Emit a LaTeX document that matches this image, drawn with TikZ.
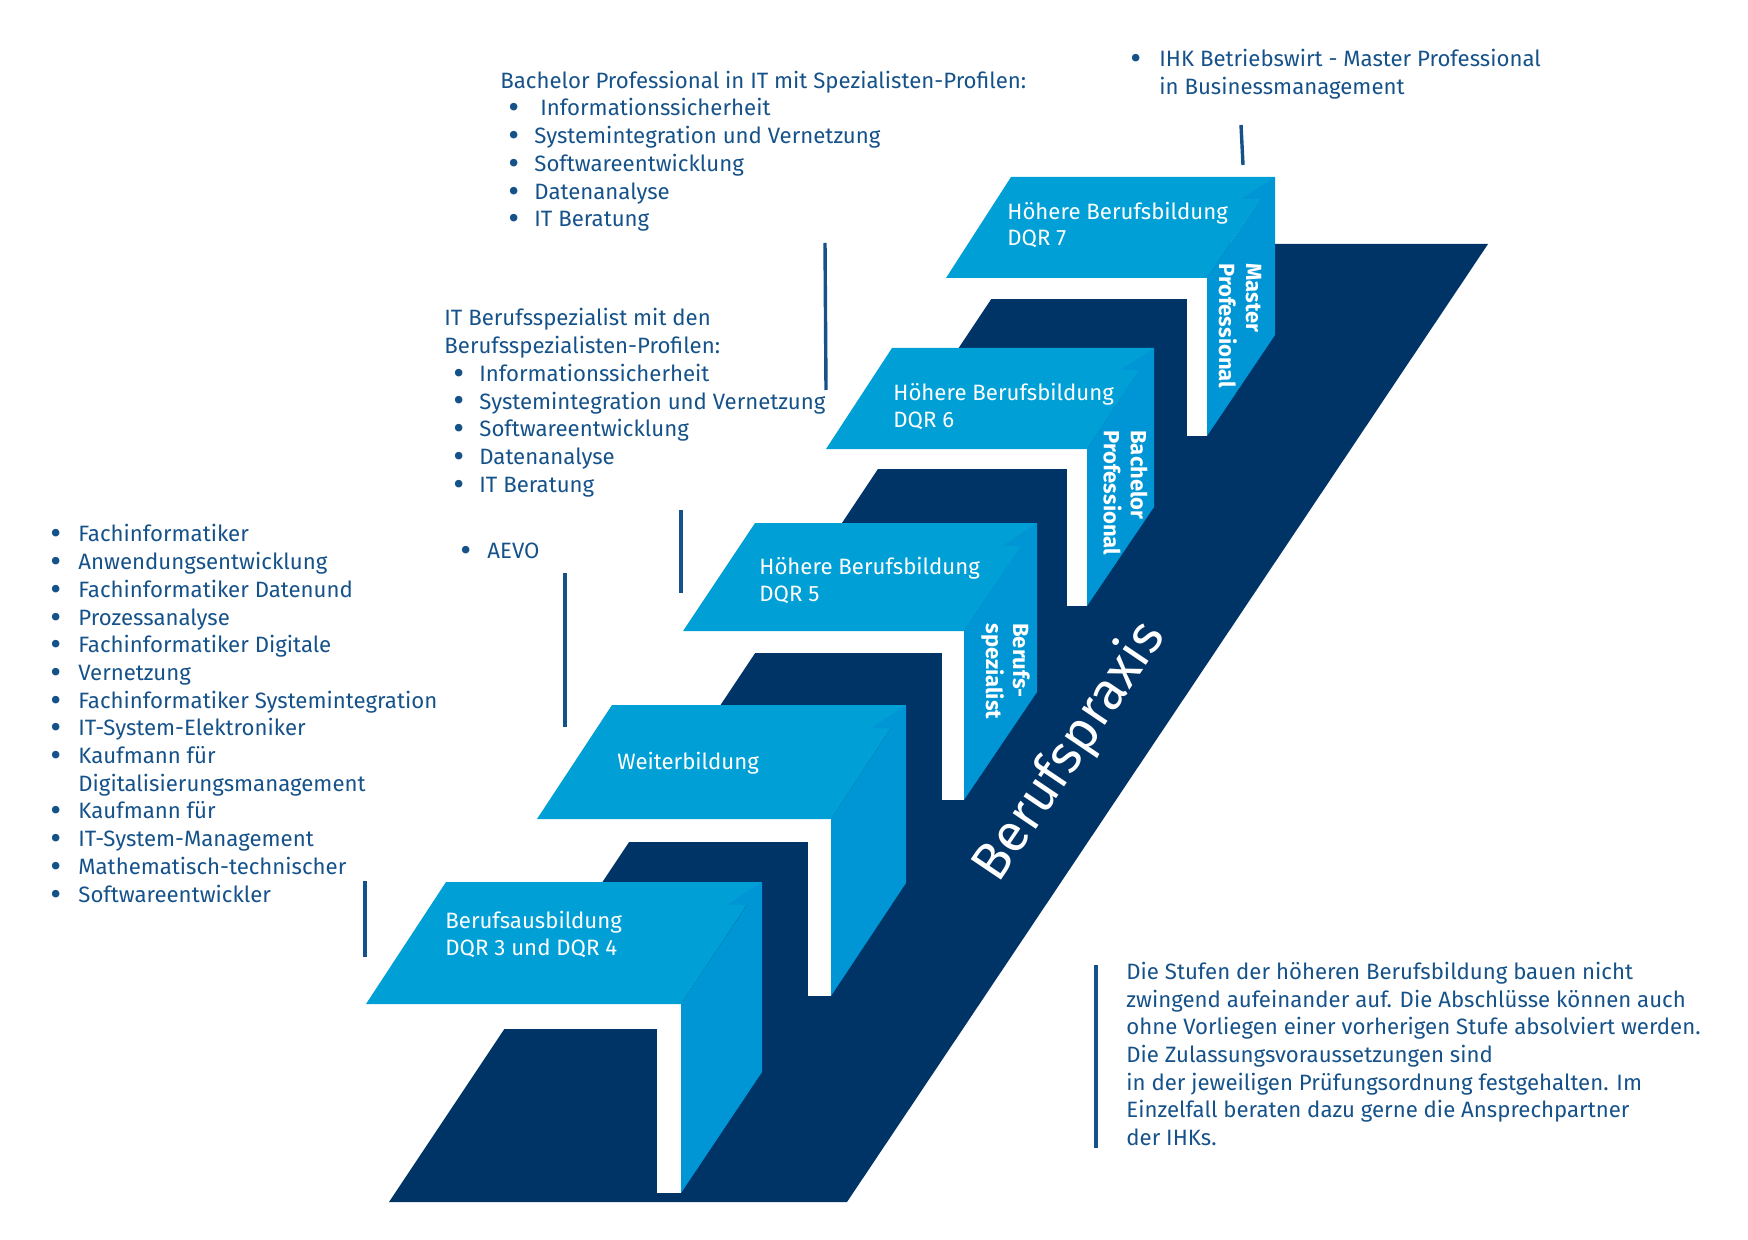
\documentclass[tikz,border=0pt]{standalone}
\usepackage{fontspec}
\setmainfont{Fira Sans}

\definecolor{hellblau}{RGB}{0,160,214}
\definecolor{seitenblau}{RGB}{0,150,213}
\definecolor{dunkelblau}{RGB}{0,51,102}
\definecolor{textblau}{RGB}{22,82,138}

\newcommand{\punkt}{\raisebox{-0.25ex}{\scalebox{1.5}{\textbullet}}}

\begin{document}
\begin{tikzpicture}[x=0.5pt,y=-0.5pt,
	liste/.style={anchor=west, inner sep=0pt, text=textblau, font=\fontsize{11.1}{13.85}\selectfont},
	stufe/.style={anchor=west, inner sep=0pt, text=white, align=left, font=\fontsize{11.1}{13.25}\selectfont},
	seite/.style={anchor=west, inner sep=0pt, text=white, align=left, rotate=-90, font=\bfseries\fontsize{11}{13.5}\selectfont},
	strich/.style={draw=textblau, line width=1.7pt}]
			\useasboundingbox (0,0) rectangle (1748,1240);
			
			% Band Berufspraxis
			\fill[dunkelblau] (389,1202) -- (847,1202) -- (1488,244) -- (1028,244) -- cycle;
			
			\fill[white] (366,1004) rectangle (681,1029);
			\fill[white] (657,1004) rectangle (681,1193);
			\fill[white] (537,819) rectangle (831,842);
			\fill[white] (808,819) rectangle (831,996);
			\fill[white] (683,631) rectangle (964,653);
			\fill[white] (942,631) rectangle (964,800);
			\fill[white] (826,449) rectangle (1087,469);
			\fill[white] (1067,449) rectangle (1087,606);
			\fill[white] (946,278) rectangle (1207,299);
			\fill[white] (1187,278) rectangle (1207,436);
			
			% Stufen
			\fill[hellblau] (366,1004) -- (446,882) -- (762,882) -- (681,1004) -- cycle;
			\fill[seitenblau] (681,1004) -- (747,905) -- (727,905) -- (762,882) -- (762,1072) -- (681,1193) -- cycle;
			\fill[hellblau] (537,819) -- (612,705) -- (906,705) -- (831,819) -- cycle;
			\fill[seitenblau] (831,819) -- (891,728) -- (871,728) -- (906,705) -- (906,883) -- (831,996) -- cycle;
			\fill[hellblau] (683,631) -- (755,523) -- (1037,523) -- (964,631) -- cycle;
			\fill[seitenblau] (964,631) -- (1021,546) -- (1002,546) -- (1037,523) -- (1037,692) -- (964,800) -- cycle;
			\fill[hellblau] (826,449) -- (892,348) -- (1154,348) -- (1087,449) -- cycle;
			\fill[seitenblau] (1087,449) -- (1139,370) -- (1120,370) -- (1154,348) -- (1154,507) -- (1087,606) -- cycle;
			\fill[hellblau] (946,278) -- (1011,177) -- (1275,177) -- (1207,278) -- cycle;
			\fill[seitenblau] (1207,278) -- (1260,199) -- (1241,199) -- (1275,177) -- (1275,335) -- (1207,436) -- cycle;
			
			\node[stufe] (ausbildung) at (445,934.5) {Berufsausbildung\\DQR 3 und DQR 4};
			\node[stufe] (weiterbildung) at (617,763) {Weiterbildung};
			\node[stufe] (dqr5) at (759,580.5) {Höhere Berufsbildung\\DQR 5};
			\node[stufe] (dqr6) at (893,406.5) {Höhere Berufsbildung\\DQR 6};
			\node[stufe] (dqr7) at (1007,225) {Höhere Berufsbildung\\DQR 7};
			
			\node[seite] (spezialist) at (1005.5,623) {Berufs-\\spezialist};
			\node[seite] (bachelor) at (1125.5,430) {Bachelor\\Professional};
			\node[seite] (master) at (1240,263) {Master\\Professional};
			
			\node[rotate=56, inner sep=0pt, text=white, font=\fontsize{26.5}{30}\selectfont] (praxis) at (1070,752) {Berufspraxis};
			
			% Listen
			\node[liste] (berufe) at (50,716.5) {\begin{tabular}{@{}p{14pt}@{}l@{}}
				\punkt & Fachinformatiker\\
				\punkt & Anwendungsentwicklung\\
				\punkt & Fachinformatiker Datenund\\
				\punkt & Prozessanalyse\\
				\punkt & Fachinformatiker Digitale\\
				\punkt & Vernetzung\\
				\punkt & Fachinformatiker Systemintegration\\
				\punkt & IT-System-Elektroniker\\
				\punkt & Kaufmann für\\
				& Digitalisierungsmanagement\\
				\punkt & Kaufmann für\\
				\punkt & IT-System-Management\\
				\punkt & Mathematisch-technischer\\
				\punkt & Softwareentwickler
			\end{tabular}};
			
			\node[liste] (aevo) at (460,552.5) {\makebox[13.5pt][l]{\punkt}AEVO};
			
			\node[liste] (spezialisten) at (444,403.5) {\begin{tabular}{@{}p{17.5pt}@{}l@{}}
				\multicolumn{2}{@{}l@{}}{IT Berufsspezialist mit den}\\
				\multicolumn{2}{@{}l@{}}{Berufsspezialisten-Profilen:}\\
				\hspace{4.5pt}\punkt & Informationssicherheit\\
				\hspace{4.5pt}\punkt & Systemintegration und Vernetzung\\
				\hspace{4.5pt}\punkt & Softwareentwicklung\\
				\hspace{4.5pt}\punkt & Datenanalyse\\
				\hspace{4.5pt}\punkt & IT Beratung
			\end{tabular}};
			
			\node[liste] (profile) at (500,152) {\begin{tabular}{@{}p{17pt}@{}l@{}}
				\multicolumn{2}{@{}l@{}}{Bachelor Professional in IT mit Spezialisten-Profilen:}\\
				\hspace{4pt}\punkt & \hspace{3pt}Informationssicherheit\\
				\hspace{4pt}\punkt & Systemintegration und Vernetzung\\
				\hspace{4pt}\punkt & Softwareentwicklung\\
				\hspace{4pt}\punkt & Datenanalyse\\
				\hspace{4pt}\punkt & IT Beratung
			\end{tabular}};
			
			\node[liste] (ihk) at (1130,75) {\begin{tabular}{@{}p{14.5pt}@{}l@{}}
				\punkt & IHK Betriebswirt - Master Professional\\
				& in Businessmanagement
			\end{tabular}};
			
			\node[liste, align=left] (hinweis) at (1126,1054) {Die Stufen der höheren Berufsbildung bauen nicht\\
				zwingend aufeinander auf. Die Abschlüsse können auch\\
				ohne Vorliegen einer vorherigen Stufe absolviert werden.\\
				Die Zulassungsvoraussetzungen sind\\
				in der jeweiligen Prüfungsordnung festgehalten. Im\\
				Einzelfall beraten dazu gerne die Ansprechpartner\\
				der IHKs.};
			
			% Striche
			\coordinate (ihkOben) at (1241,125);
			\coordinate (ihkUnten) at (1243,165);
			\coordinate (profileOben) at (825,243);
			\coordinate (profileUnten) at (826,390);
			\coordinate (spezOben) at (681,510);
			\coordinate (spezUnten) at (681,593);
			\coordinate (aevoOben) at (565,573);
			\coordinate (aevoUnten) at (565,727);
			\coordinate (berufeOben) at (365,881);
			\coordinate (berufeUnten) at (365,957);
			\coordinate (hinweisOben) at (1096,965);
			\coordinate (hinweisUnten) at (1096,1148);
			\draw[strich] (ihkOben) -- (ihkUnten);
			\draw[strich] (profileOben) -- (profileUnten);
			\draw[strich] (spezOben) -- (spezUnten);
			\draw[strich] (aevoOben) -- (aevoUnten);
			\draw[strich] (berufeOben) -- (berufeUnten);
			\draw[strich] (hinweisOben) -- (hinweisUnten);
		\end{tikzpicture}
\end{document}
